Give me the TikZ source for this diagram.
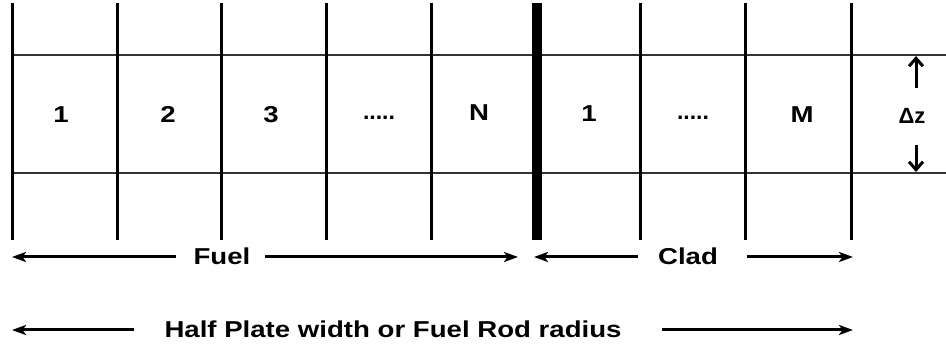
\documentclass[tikz,border=0pt]{standalone}
\usepackage{fontspec}
\setmainfont[FakeStretch=1.2]{Liberation Sans}
\newfontfamily\plainfont{Liberation Sans}
\usetikzlibrary{arrows.meta}
\tikzset{
  thinv/.style={line width=3pt},
  thickv/.style={line width=10pt},
  hline/.style={line width=2pt, black!80},
  lbl/.style={inner sep=0pt, anchor=base, font=\bfseries\fontsize{23}{26}\selectfont},
  dots/.style={inner sep=0pt, anchor=base, font=\plainfont\bfseries\fontsize{23}{26}\selectfont},
  dim/.style={line width=3pt, -{Stealth[length=14pt,width=10pt,inset=3.5pt]}},
  dz/.style={line width=3pt, -{Straight Barb[length=8pt,width=14pt]}}
}
\begin{document}
\begin{tikzpicture}[x=1pt,y=-1pt]
\useasboundingbox (0,0) rectangle (946,344);
% horizontal lines
\coordinate (h1a) at (12,55);  \coordinate (h1b) at (946,55);
\coordinate (h2a) at (12,173); \coordinate (h2b) at (946,173);
\draw[hline] (h1a) -- (h1b);
\draw[hline] (h2a) -- (h2b);
% vertical lines
\foreach \x/\n in {12/v0,117/v1,221/v2,326/v3,431/v4,640/v6,745/v7,851/v8}{
  \coordinate (\n t) at (\x,3); \coordinate (\n b) at (\x,240);
  \draw[thinv] (\n t) -- (\n b);
}
\coordinate (v5t) at (537,3); \coordinate (v5b) at (537,240);
\draw[thickv] (v5t) -- (v5b);
% cell labels (baselines)
\node[lbl] (c1) at (61,123) {1};
\node[lbl] (c2) at (168,123) {2};
\node[lbl] (c3) at (271,123) {3};
\node[dots] (c4) at (379,120) {.....};
\node[lbl] (c5) at (479,121) {N};
\node[lbl] (d1) at (589,122) {1};
\node[dots] (d2) at (693,120) {.....};
\node[lbl] (d3) at (802,123) {M};
% delta z
\node[lbl, font=\plainfont\bfseries\fontsize{22}{24}\selectfont] (dz) at (912,124) {Δz};
\coordinate (dzu0) at (916,88);  \coordinate (dzu1) at (916,56);
\coordinate (dzd0) at (916,145); \coordinate (dzd1) at (916,172);
\draw[dz] (dzu0) -- (dzu1);
\draw[dz] (dzd0) -- (dzd1);
% Fuel / Clad
\node[lbl] (fuel) at (222,265) {Fuel};
\coordinate (fuelL0) at (176,257); \coordinate (fuelL1) at (12,257);
\coordinate (fuelR0) at (265,257); \coordinate (fuelR1) at (518,257);
\draw[dim] (fuelL0) -- (fuelL1);
\draw[dim] (fuelR0) -- (fuelR1);
\node[lbl] (clad) at (688,265) {Clad};
\coordinate (cladL0) at (638,257); \coordinate (cladL1) at (534,257);
\coordinate (cladR0) at (747,257); \coordinate (cladR1) at (853,257);
\draw[dim] (cladL0) -- (cladL1);
\draw[dim] (cladR0) -- (cladR1);
% Half plate
\node[lbl] (half) at (393,338) {Half Plate width or Fuel Rod radius};
\coordinate (halfL0) at (134,330); \coordinate (halfL1) at (12,330);
\coordinate (halfR0) at (662,330); \coordinate (halfR1) at (853,330);
\draw[dim] (halfL0) -- (halfL1);
\draw[dim] (halfR0) -- (halfR1);
\end{tikzpicture}
\end{document}
